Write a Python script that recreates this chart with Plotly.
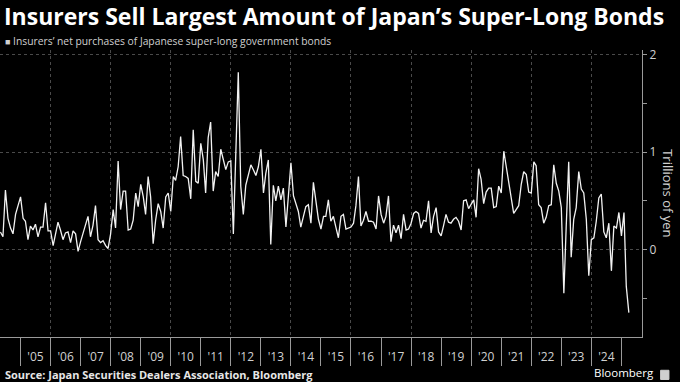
import pandas as pd
import plotly.graph_objects as go

# Monthly net purchases, trillions of yen, May 2004 - Apr 2025
start_month = "2004-05-01"
values = [
    0.18, 0.13, 0.61, 0.32, 0.22, 0.16, 0.36, 0.44, 0.54, 0.32, 0.29, 0.10,
    0.24, 0.20, 0.26, 0.13, 0.23, 0.23, 0.48, 0.19, 0.19, 0.04, 0.17, 0.28,
    0.20, 0.10, 0.17, 0.18, 0.07, 0.19, 0.16, -0.02, 0.08, 0.17, 0.24, 0.34,
    0.13, 0.25, 0.45, 0.10, 0.07, 0.09, 0.04, 0.01, 0.16, 0.41, 0.22, 0.91,
    0.41, 0.60, 0.60, 0.20, 0.21, 0.30, 0.58, 0.44, 0.67, 0.54, 0.36, 0.75,
    0.54, 0.06, 0.30, 0.47, 0.39, 0.22, 0.54, 0.58, 0.39, 0.75, 0.71, 0.85,
    1.16, 0.76, 0.75, 0.73, 0.52, 1.23, 0.70, 0.68, 1.09, 0.92, 0.58, 1.15,
    1.31, 0.60, 0.80, 0.75, 1.03, 0.94, 0.82, 0.90, 0.91, 0.16, 0.95, 1.82,
    0.65, 0.36, 0.66, 0.78, 0.87, 0.82, 0.76, 0.85, 1.03, 0.58, 0.78, 0.92,
    0.05, 0.66, 0.50, 0.65, 0.51, 0.63, 0.23, 0.55, 0.89, 0.55, 0.46, 0.39,
    0.23, 0.34, 0.44, 0.46, 0.27, 0.69, 0.51, 0.31, 0.21, 0.34, 0.34, 0.51,
    0.29, 0.34, 0.23, 0.12, 0.34, 0.36, 0.21, 0.22, 0.23, 0.27, 0.45, 0.75,
    0.24, 0.30, 0.39, 0.29, 0.29, 0.28, 0.21, 0.55, 0.36, 0.27, 0.34, 0.55,
    0.08, 0.25, 0.17, 0.25, 0.11, 0.36, 0.20, 0.21, 0.27, 0.37, 0.39, 0.37,
    0.22, 0.30, 0.29, 0.50, 0.17, 0.34, 0.43, 0.18, 0.14, 0.25, 0.36, 0.28,
    0.27, 0.31, 0.33, 0.29, 0.20, 0.50, 0.51, 0.42, 0.46, 0.51, 0.33, 0.83,
    0.72, 0.47, 0.59, 0.63, 0.63, 0.43, 0.44, 0.65, 0.58, 1.01, 0.86, 0.70,
    0.51, 0.37, 0.41, 0.45, 0.67, 0.80, 0.77, 0.59, 0.58, 0.90, 0.86, 0.46,
    0.43, 0.27, 0.33, 0.45, 0.46, 0.87, 0.68, 0.60, 0.43, -0.45, 0.22, 0.90,
    -0.08, 0.31, 0.43, 0.80, 0.62, 0.58, 0.31, -0.27, 0.10, 0.12, 0.29, 0.53,
    0.57, 0.18, 0.12, 0.27, -0.22, 0.24, 0.22, 0.38, 0.14, 0.38, -0.38, -0.65,
]
dates = pd.date_range(start_month, periods=len(values), freq="MS")

years = list(range(2005, 2025))
year_labels = ["'" + str(y)[2:] for y in years]
label_positions = [f"{y}-07-02" for y in years]

x_range = ["2004-04-26", "2025-09-08"]
y_range = [-0.9, 2.05]

FONT = "Open Sans"
GRID = "#4a4a4a"
AXIS = "#9a9a9a"
TXT = "#d0d0d0"

fig = go.Figure()
fig.add_trace(go.Scatter(
    x=dates, y=values, mode="lines",
    line=dict(color="#f2f2f2", width=1.3),
    showlegend=False, hoverinfo="x+y",
))
# invisible trace to carry the 2-year grid axis
fig.add_trace(go.Scatter(
    x=[dates[0]], y=[values[0]], xaxis="x2", mode="lines",
    line=dict(width=0), showlegend=False, hoverinfo="skip",
))

fig.update_layout(
    width=680, height=382,
    paper_bgcolor="#000000", plot_bgcolor="#000000",
    margin=dict(l=0, r=38, t=50, b=45),
    font=dict(family=FONT, color=TXT),
    xaxis=dict(
        type="date", range=x_range,
        tickmode="array", tickvals=label_positions, ticktext=year_labels,
        ticks="outside", ticklen=9, tickcolor="rgba(0,0,0,0)",
        tickfont=dict(size=12, color=TXT, family=FONT),
        showgrid=False, zeroline=False,
        showline=True, linecolor=AXIS, linewidth=1,
        minor=dict(tickmode="linear", tick0="2005-01-01", dtick="M12",
                   ticks="outside", ticklen=28, tickcolor=AXIS, tickwidth=1,
                   showgrid=False),
    ),
    xaxis2=dict(
        type="date", range=x_range, overlaying="x", anchor="y",
        tickmode="linear", tick0="2006-01-01", dtick="M24",
        showticklabels=False, ticks="",
        showgrid=True, gridcolor=GRID, griddash="dot", gridwidth=1,
        zeroline=False, showline=False,
    ),
    yaxis=dict(
        side="right", range=y_range,
        tickmode="linear", tick0=0, dtick=1,
        ticks="outside", ticklen=4, tickcolor=AXIS,
        tickfont=dict(size=12, color=TXT, family=FONT),
        showgrid=True, gridcolor=GRID, griddash="dot", gridwidth=1,
        zeroline=False,
        showline=True, linecolor=AXIS, linewidth=1,
        minor=dict(tickmode="linear", tick0=0, dtick=0.5,
                   ticks="outside", ticklen=4, tickcolor=AXIS, showgrid=False),
    ),
    hovermode="closest",
)

fig.add_annotation(
    text="<b>Insurers Sell Largest Amount of Japan’s Super-Long Bonds</b>",
    xref="paper", yref="paper", x=0.003, y=1.12, xanchor="left", yanchor="middle",
    showarrow=False, font=dict(size=23, color="#ffffff", family=FONT),
)
fig.add_annotation(
    text="<span style='font-size:9px'>■</span> Insurers’ net purchases of Japanese super-long government bonds",
    xref="paper", yref="paper", x=0.005, y=1.031, xanchor="left", yanchor="middle",
    showarrow=False, font=dict(size=10.3, color=TXT, family=FONT),
)
fig.add_annotation(
    text="Trillions of yen",
    xref="paper", yref="paper", x=1.041, y=0.5, xanchor="center", yanchor="middle",
    textangle=90, showarrow=False, font=dict(size=13, color=TXT, family=FONT),
)
fig.add_annotation(
    text="<b>Source: Japan Securities Dealers Association, Bloomberg</b>",
    xref="paper", yref="paper", x=0.005, y=-0.13, xanchor="left", yanchor="middle",
    showarrow=False, font=dict(size=11, color="#e6e6e6", family=FONT),
)
fig.add_annotation(
    text="Bloomberg",
    xref="paper", yref="paper", x=1.021, y=-0.155, xanchor="right", yanchor="bottom",
    showarrow=False, borderpad=0, font=dict(size=11.5, color="#ffffff", family=FONT),
)
fig.add_shape(
    type="rect", xref="paper", yref="paper",
    x0=1.029, x1=1.042, y0=-0.148, y1=-0.116,
    line=dict(color="#cfcfcf", width=1), fillcolor="#cfcfcf",
)

fig.write_html("out.html", config={"displayModeBar": False},
               post_script="document.body.style.margin='0';")
